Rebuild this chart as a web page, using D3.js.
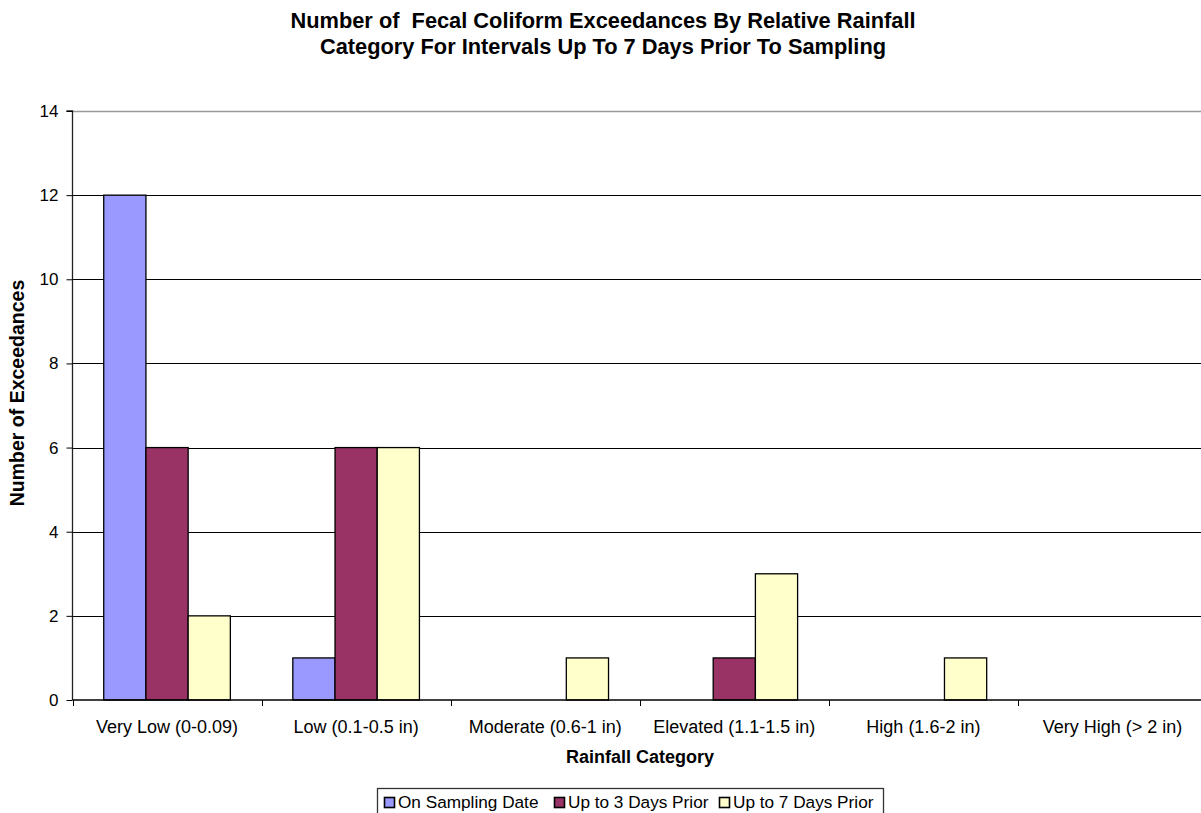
<!DOCTYPE html>
<html>
<head>
<meta charset="utf-8">
<script src="https://cdn.jsdelivr.net/npm/d3@7"></script>
<style>
  html, body { margin: 0; padding: 0; background: #fff; overflow: hidden; }
  svg { display: block; font-family: "Liberation Sans", Arial, sans-serif; }
</style>
</head>
<body>
<svg id="chart" width="1201" height="813"></svg>
<script>
// Rainfall categories and exceedance counts per interval
const categories = ["Very Low (0-0.09)", "Low (0.1-0.5 in)", "Moderate (0.6-1 in)",
                    "Elevated (1.1-1.5 in)", "High (1.6-2 in)", "Very High (> 2 in)"];
const seriesNames = ["On Sampling Date", "Up to 3 Days Prior", "Up to 7 Days Prior"];
const onSamplingDate = [12, 1, 0, 0, 0, 0];
const upTo3Days = [6, 6, 0, 1, 0, 0];
const upTo7Days = [2, 6, 1, 3, 1, 0];
const yTicks = [0, 2, 4, 6, 8, 10, 12, 14];
const colors = ["#9999FF", "#993366", "#FFFFCC"];

const seriesValues = [onSamplingDate, upTo3Days, upTo7Days];

const svg = d3.select("#chart");
const plot = { left: 72.5, right: 1207, top: 111, bottom: 700 };

const x = d3.scaleBand().domain(categories).range([plot.left, plot.right]).paddingInner(0).paddingOuter(0);
const xs = d3.scaleBand().domain(seriesNames)
  .range([0, x.bandwidth()]).paddingInner(0).paddingOuter(0.74);
const y = d3.scaleLinear().domain([0, 14]).range([plot.bottom, plot.top]);

// Title
const title = svg.append("text").attr("text-anchor", "middle")
  .style("font-weight", "bold").style("font-size", "21.8px").attr("fill", "#000")
  .style("white-space", "pre");
title.append("tspan").attr("x", 603).attr("y", 28)
  .text("Number of  Fecal Coliform Exceedances By Relative Rainfall");
title.append("tspan").attr("x", 603).attr("y", 54)
  .text("Category For Intervals Up To 7 Days Prior To Sampling");

// Horizontal gridlines
svg.append("g").selectAll("line").data(yTicks.filter(d => d > 0)).join("line")
  .attr("x1", plot.left).attr("x2", plot.right)
  .attr("y1", d => Math.round(y(d)) + 0.5).attr("y2", d => Math.round(y(d)) + 0.5)
  .attr("stroke", d => d === 14 ? "#999" : "#000").attr("stroke-width", d => d === 14 ? 1.5 : 1);

// Bars
const groups = svg.append("g").selectAll("g").data(categories).join("g")
  .attr("transform", d => `translate(${x(d)},0)`);
groups.selectAll("rect")
  .data((c, i) => seriesNames.map((s, j) => ({ s, v: seriesValues[j][i], j })))
  .join("rect")
  .filter(d => d.v > 0)
  .attr("x", d => xs(d.s))
  .attr("width", xs.bandwidth())
  .attr("y", d => y(d.v))
  .attr("height", d => y(0) - y(d.v))
  .attr("fill", d => colors[d.j])
  .attr("stroke", "#000").attr("stroke-width", 1.3);

// Y axis
const yAxis = d3.axisLeft(y).tickValues(yTicks).tickSize(6).tickPadding(8).tickFormat(d3.format("d"));
const yg = svg.append("g").attr("transform", `translate(${plot.left},0)`).call(yAxis);
yg.select(".domain").attr("stroke", "#222").attr("stroke-width", 1.3).attr("d", `M-6,${plot.top}H0V${plot.bottom}`);
yg.selectAll(".tick line").attr("stroke", "#000");
yg.selectAll(".tick text").style("font-size", "17px").attr("fill", "#000")
  .style("font-family", "Liberation Sans, Arial, sans-serif");

// X axis
const xAxis = d3.axisBottom(x).tickSize(0).tickPadding(20);
const xg = svg.append("g").attr("transform", `translate(0,${plot.bottom})`).call(xAxis);
xg.select(".domain").attr("stroke", "#000").attr("stroke-width", 1.5).attr("d", `M${plot.left},0H${plot.right}`);
xg.selectAll(".tick text").style("font-size", "18px").attr("fill", "#000")
  .style("font-family", "Liberation Sans, Arial, sans-serif");
// category boundary ticks
xg.append("g").selectAll("line").data(categories).join("line")
  .attr("x1", d => Math.round(x(d)) + 0.5).attr("x2", d => Math.round(x(d)) + 0.5)
  .attr("y1", 0).attr("y2", 6).attr("stroke", "#000");

// Axis titles
svg.append("text").attr("x", 640).attr("y", 763).attr("text-anchor", "middle")
  .style("font-weight", "bold").style("font-size", "18px").text("Rainfall Category");
svg.append("text").attr("transform", "translate(24,393) rotate(-90)").attr("text-anchor", "middle")
  .style("font-weight", "bold").style("font-size", "19.5px").text("Number of Exceedances");

// Legend
const legend = svg.append("g");
legend.append("rect").attr("x", 377.5).attr("y", 788.5).attr("width", 506).attr("height", 30)
  .attr("fill", "#fff").attr("stroke", "#333").attr("stroke-width", 1.3);
const legendX = [384, 554, 719];
seriesNames.forEach((name, i) => {
  legend.append("rect").attr("x", legendX[i] + 0.5).attr("y", 797.5).attr("width", 10).attr("height", 10)
    .attr("fill", colors[i]).attr("stroke", "#000").attr("stroke-width", 1.6);
  legend.append("text").attr("x", legendX[i] + 14).attr("y", 808)
    .style("font-size", "17.2px").text(name);
});
</script>
</body>
</html>
